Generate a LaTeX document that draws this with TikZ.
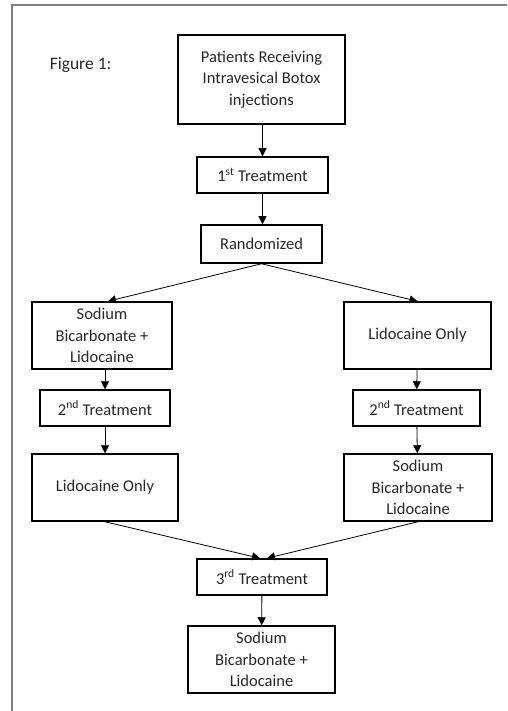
\documentclass[tikz,border=0pt]{standalone}
\usepackage{fontspec}
\setmainfont{Carlito}
\usetikzlibrary{arrows.meta}

\begin{document}
\begin{tikzpicture}[x=1pt,y=-1pt,
        every node/.style={draw=black,line width=1.5pt,rectangle,inner sep=0pt,align=center,text=black!85,
            font=\fontsize{16.5}{21.5}\selectfont},
        every edge/.style={draw,line width=0.8pt,-{Triangle[length=8pt,width=8pt]}}]
            \useasboundingbox (0,0) rectangle (507,711);
            \draw [gray,line width=1.5pt] (12,711) -- (12,5) -- (507,5);

            \node [draw=none,anchor=west,font=\fontsize{17.5}{21.5}\selectfont] (fig) at (49,65) {Figure 1:};

            \node [minimum width=167pt,minimum height=89pt] (1) at (261.5,79.5) {Patients Receiving\\Intravesical Botox\\injections};
            \node [minimum width=131pt,minimum height=36pt] (2) at (262.5,175) {1\textsuperscript{st} Treatment};
            \node [minimum width=121pt,minimum height=38pt] (3) at (261.5,244) {Randomized};
            \node [minimum width=140pt,minimum height=67pt] (4) at (102,335.5) {Sodium\\Bicarbonate +\\Lidocaine};
            \node [minimum width=147pt,minimum height=67pt] (5) at (417.5,335.5) {Lidocaine Only};
            \node [minimum width=130pt,minimum height=36pt] (6) at (105,408) {2\textsuperscript{nd} Treatment};
            \node [minimum width=127pt,minimum height=36pt] (7) at (416.5,408) {2\textsuperscript{nd} Treatment};
            \node [minimum width=146pt,minimum height=67pt] (8) at (105,487.5) {Lidocaine Only};
            \node [minimum width=148pt,minimum height=67pt] (9) at (418,487.5) {Sodium\\Bicarbonate +\\Lidocaine};
            \node [minimum width=130pt,minimum height=36pt] (10) at (262,577) {3\textsuperscript{rd} Treatment};
            \node [minimum width=147pt,minimum height=67pt] (11) at (261.5,659.5) {Sodium\\Bicarbonate +\\Lidocaine};

            \path (1.south -| 2.north) edge (2);
            \path (2.south) edge (2.south |- 3.north);
            \path (3.south) edge ([xshift=6pt]4.north);
            \path (3.south) edge (5.north);
            \path (4.south -| 6.north) edge (6);
            \path (5) edge (7);
            \path (6) edge (8);
            \path (7) edge (9);
            \path (8.south) edge ([xshift=-2pt]10.north);
            \path (9.south) edge ([xshift=5pt]10.north);
            \path (10) edge (11);
        \end{tikzpicture}
\end{document}
